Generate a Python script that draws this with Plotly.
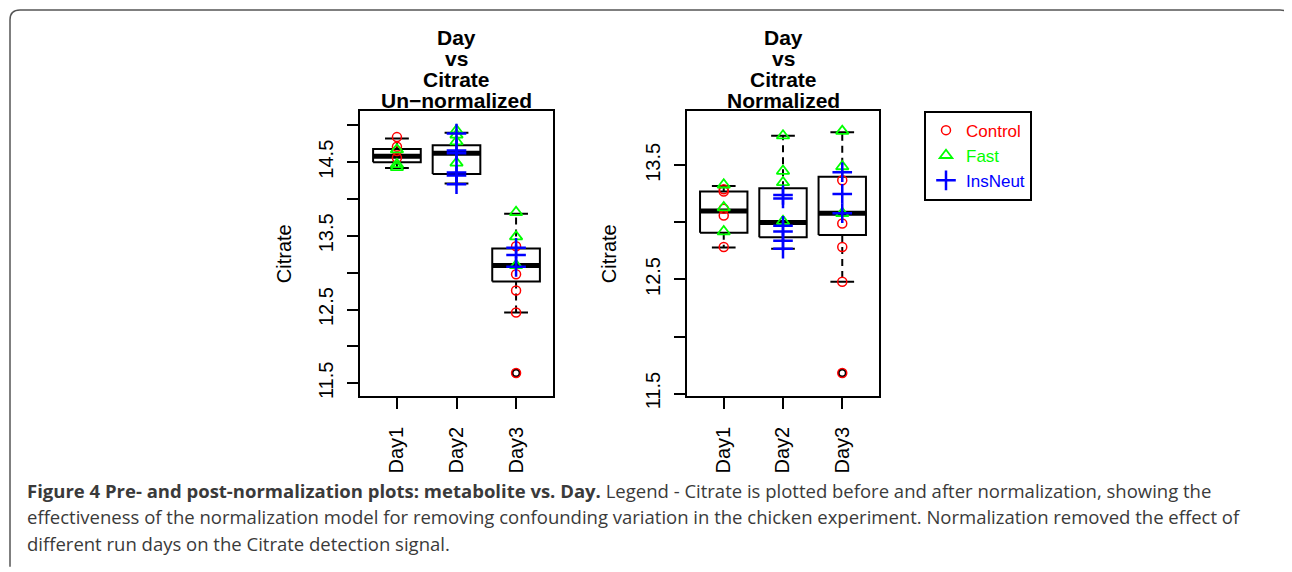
import plotly.graph_objects as go

# page body has an 8px margin; size the figure to fill the rest of the window
OFF = 8
W, H = 1292 - OFF, 572 - OFF

days = ["Day1", "Day2", "Day3"]
day_idx = [1, 2, 3]

# ---- Un-normalized box statistics (per day) ----
raw_q1 = [14.50, 14.34, 12.88]
raw_med = [14.58, 14.62, 13.10]
raw_q3 = [14.68, 14.73, 13.33]
raw_lo = [14.42, 14.21, 12.46]
raw_hi = [14.82, 14.90, 13.80]
raw_out_day = [3]
raw_out_val = [11.64]

# ---- Normalized box statistics (per day) ----
norm_q1 = [12.91, 12.87, 12.89]
norm_med = [13.10, 13.00, 13.08]
norm_q3 = [13.27, 13.30, 13.40]
norm_lo = [12.78, 12.77, 12.48]
norm_hi = [13.32, 13.76, 13.79]
norm_out_day = [3]
norm_out_val = [11.68]

# ---- Individual samples: (day index, value) ----
raw_control_day = [1, 1, 1, 1, 3, 3, 3, 3, 3]
raw_control_val = [14.84, 14.71, 14.65, 14.56, 13.36, 12.98, 12.76, 12.46, 11.64]
raw_fast_day = [1, 1, 1, 2, 2, 2, 2, 3, 3, 3]
raw_fast_val = [14.67, 14.47, 14.43, 14.93, 14.87, 14.78, 14.49, 13.82, 13.49, 13.10]
raw_ins_day = [2, 2, 2, 2, 2, 2, 3, 3, 3]
raw_ins_val = [14.89, 14.66, 14.62, 14.36, 14.32, 14.20, 13.34, 13.24, 13.08]

norm_control_day = [1, 1, 1, 1, 1, 3, 3, 3, 3, 3]
norm_control_val = [13.29, 13.27, 13.12, 13.06, 12.785, 13.37, 12.99, 12.785, 12.48, 11.68]
norm_fast_day = [1, 1, 1, 2, 2, 2, 2, 3, 3, 3]
norm_fast_val = [13.33, 13.13, 12.92, 13.76, 13.45, 13.35, 13.01, 13.80, 13.49, 13.08]
norm_ins_day = [2, 2, 2, 2, 2, 2, 3, 3, 3]
norm_ins_val = [13.24, 13.21, 12.97, 12.92, 12.84, 12.77, 13.44, 13.25, 13.08]

raw_yticks = [11.5, 12.0, 12.5, 13.0, 13.5, 14.0, 14.5, 15.0]
raw_ytext = ["11.5", "", "12.5", "", "13.5", "", "14.5", ""]
norm_yticks = [11.5, 12.0, 12.5, 13.0, 13.5]
norm_ytext = ["11.5", "", "12.5", "", "13.5"]

group_names = ["Control", "Fast", "InsNeut"]
group_colors = ["#FF0000", "#00FF00", "#0000FF"]
group_symbols = ["circle-open", "triangle-up-open", "cross-thin-open"]
group_sizes = [9, 11, 14]
group_lw = [1.5, 1.8, 2.5]

AXFONT = "Liberation Sans, Arial, sans-serif"
BOXW = 0.4
STAPLE = 0.2

fig = go.Figure()


def add_boxes(q1, med, q3, lo, hi, out_d, out_v, xa, ya):
    rx, ry, mx, my, wx, wy, sx, sy = [], [], [], [], [], [], [], []
    for d, a, m, b, l, h in zip(day_idx, q1, med, q3, lo, hi):
        rx += [d - BOXW, d + BOXW, d + BOXW, d - BOXW, d - BOXW, None]
        ry += [a, a, b, b, a, None]
        mx += [d - BOXW, d + BOXW, None]
        my += [m, m, None]
        wx += [d, d, None, d, d, None]
        wy += [b, h, None, a, l, None]
        sx += [d - STAPLE, d + STAPLE, None, d - STAPLE, d + STAPLE, None]
        sy += [h, h, None, l, l, None]
    common = dict(xaxis=xa, yaxis=ya, mode="lines", showlegend=False, hoverinfo="skip")
    fig.add_trace(go.Scatter(x=wx, y=wy, line=dict(color="black", width=2, dash="7px,5px"), **common))
    fig.add_trace(go.Scatter(x=sx, y=sy, line=dict(color="black", width=2), **common))
    fig.add_trace(go.Scatter(x=rx, y=ry, line=dict(color="black", width=2), **common))
    fig.add_trace(go.Scatter(x=mx, y=my, line=dict(color="black", width=5), **common))
    fig.add_trace(go.Scatter(x=out_d, y=out_v, xaxis=xa, yaxis=ya, mode="markers",
                             marker=dict(symbol="circle-open", size=7, color="black",
                                         line=dict(width=2, color="black")),
                             showlegend=False, hoverinfo="skip"))


add_boxes(raw_q1, raw_med, raw_q3, raw_lo, raw_hi, raw_out_day, raw_out_val, "x", "y")
add_boxes(norm_q1, norm_med, norm_q3, norm_lo, norm_hi, norm_out_day, norm_out_val, "x2", "y2")

raw_groups = [(raw_control_day, raw_control_val), (raw_fast_day, raw_fast_val), (raw_ins_day, raw_ins_val)]
norm_groups = [(norm_control_day, norm_control_val), (norm_fast_day, norm_fast_val), (norm_ins_day, norm_ins_val)]

for gi, name in enumerate(group_names):
    mk = dict(symbol=group_symbols[gi], size=group_sizes[gi], color=group_colors[gi],
              line=dict(width=group_lw[gi], color=group_colors[gi]))
    label = f"<span style='color:{group_colors[gi]}'>{name}</span>"
    d, v = raw_groups[gi]
    fig.add_trace(go.Scatter(x=d, y=v, xaxis="x", yaxis="y", mode="markers", marker=mk,
                             name=label, legendgroup=name, showlegend=True))
    d, v = norm_groups[gi]
    fig.add_trace(go.Scatter(x=d, y=v, xaxis="x2", yaxis="y2", mode="markers", marker=mk,
                             name=label, legendgroup=name, showlegend=False))


def px_x(p):
    return (p - OFF) / W


def px_y(p):
    return 1 - (p - OFF) / H


axis_common = dict(showline=True, mirror=True, linecolor="black", linewidth=2,
                   ticks="outside", ticklen=11, tickwidth=2, tickcolor="black",
                   showgrid=False, zeroline=False,
                   tickfont=dict(family=AXFONT, size=20, color="black"))

fig.update_layout(
    width=W, height=H,
    margin=dict(l=0, r=0, t=0, b=0),
    paper_bgcolor="white", plot_bgcolor="white",
    xaxis=dict(domain=[px_x(360), px_x(553)], range=[0.38, 3.62], tickvals=day_idx,
               ticktext=days, tickangle=-90, anchor="y", ticklabelstandoff=10, **axis_common),
    yaxis=dict(domain=[px_y(405), px_y(113)], range=[11.33, 15.2], tickvals=raw_yticks,
               ticktext=raw_ytext, tickangle=-90, anchor="x", ticklabelstandoff=6, **axis_common),
    xaxis2=dict(domain=[px_x(687), px_x(879)], range=[0.38, 3.62], tickvals=day_idx,
                ticktext=days, tickangle=-90, anchor="y2", ticklabelstandoff=10, **axis_common),
    yaxis2=dict(domain=[px_y(405), px_y(113)], range=[11.48, 13.98], tickvals=norm_yticks,
                ticktext=norm_ytext, tickangle=-90, anchor="x2", ticklabelstandoff=6, **axis_common),
    legend=dict(x=px_x(924), y=px_y(113), xanchor="left", yanchor="top",
                bordercolor="black", borderwidth=2, bgcolor="white",
                font=dict(family=AXFONT, size=17, color="black"), tracegroupgap=0,
                itemwidth=30),
    showlegend=True,
)

# Titles (one annotation per line to match tight line spacing)
title_lines_left = ["Day", "vs", "Citrate", "Un\u2212normalized"]
title_lines_right = ["Day", "vs", "Citrate", "Normalized"]
title_ys = [38, 59.5, 81, 102.5]
for lines, cx in [(title_lines_left, 456.5), (title_lines_right, 783)]:
    for t, yy in zip(lines, title_ys):
        fig.add_annotation(x=px_x(cx), y=px_y(yy), xref="paper", yref="paper",
                           text=f"<b>{t}</b>", showarrow=False, xanchor="center", yanchor="middle",
                           font=dict(family=AXFONT, size=21, color="black"))

# Y-axis titles
for cx in [284, 609]:
    fig.add_annotation(x=px_x(cx), y=px_y(260), xref="paper", yref="paper", text="Citrate",
                       textangle=-90, showarrow=False, xanchor="center", yanchor="middle",
                       font=dict(family=AXFONT, size=20, color="black"))

# Caption
CAPFONT = "Open Sans, Lato, sans-serif"
caption_lines = [
    "<b>Figure 4 Pre- and post-normalization plots: metabolite vs. Day.</b> Legend - Citrate is plotted before and after normalization, showing the",
    "effectiveness of the normalization model for removing confounding variation in the chicken experiment. Normalization removed the effect of",
    "different run days on the Citrate detection signal.",
]
for t, yy in zip(caption_lines, [502, 529, 556]):
    fig.add_annotation(x=px_x(25), y=px_y(yy), xref="paper", yref="paper", text=t,
                       showarrow=False, xanchor="left", yanchor="middle", align="left",
                       font=dict(family=CAPFONT, size=18.5, color="#3a3a3a"))

# Outer rounded frame
r = 10
path = (f"M {px_x(10)},{px_y(580)} L {px_x(10)},{px_y(10 + r)} "
        f"Q {px_x(10)},{px_y(10)} {px_x(10 + r)},{px_y(10)} "
        f"L {px_x(1290 - r)},{px_y(10)} Q {px_x(1290)},{px_y(10)} {px_x(1290)},{px_y(10 + r)} "
        f"L {px_x(1290)},{px_y(580)}")
fig.add_shape(type="path", path=path, xref="paper", yref="paper",
              line=dict(color="#555555", width=1.5))

fig.write_html("out.html")
